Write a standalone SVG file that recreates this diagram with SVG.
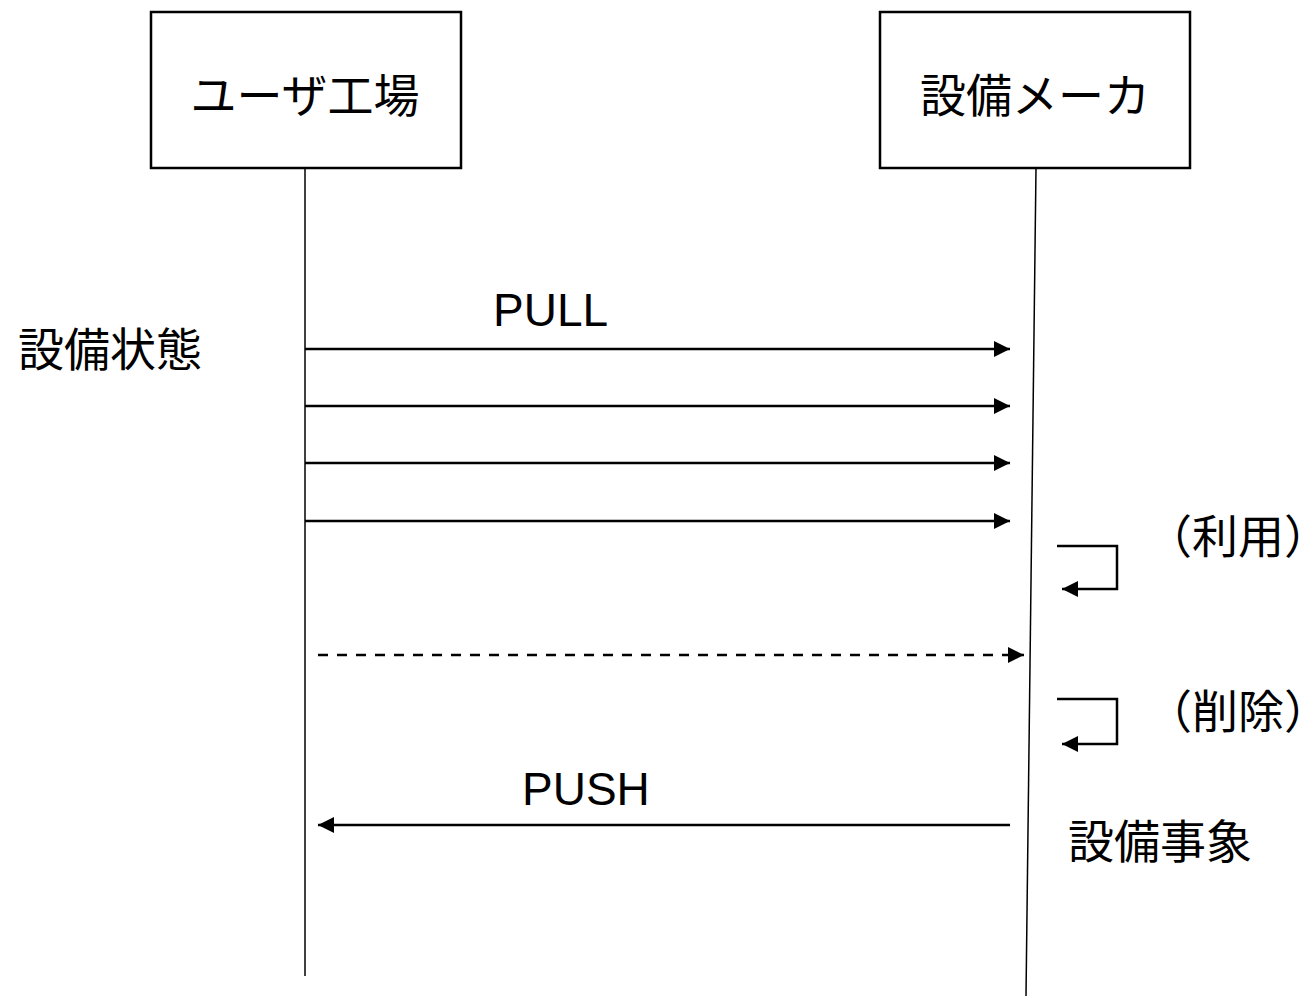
<svg xmlns="http://www.w3.org/2000/svg" width="1312" height="1000" viewBox="0 0 1312 1000">
<style>
.box{fill:#fff;stroke:#000;stroke-width:2.5}
.life{stroke:#000;stroke-width:1.5;fill:none}
.msg{stroke:#000;stroke-width:2.5;fill:none}
.dash{stroke-dasharray:10 9}
text{font-family:"Liberation Sans","Noto Sans CJK JP",sans-serif;font-size:46px;fill:#000}
</style>
<defs>
<marker id="ah" markerUnits="userSpaceOnUse" markerWidth="18" markerHeight="16" refX="16" refY="8" orient="auto">
<path d="M0,0 L16,8 L0,16 Z" fill="#000"/>
</marker>
</defs>
<rect width="1312" height="1000" fill="#fff"/>
<g id="user-factory">
<rect class="box" x="151" y="12" width="310" height="156"/>
<text x="305" y="112" text-anchor="middle">ユーザ工場</text>
</g>
<g id="maker">
<rect class="box" x="880" y="12" width="310" height="156"/>
<text x="1035" y="112" text-anchor="middle">設備メーカ</text>
</g>
<g id="lifelines">
<line class="life" x1="305" y1="168" x2="305" y2="976"/>
<line class="life" x1="1036" y1="168" x2="1026" y2="996"/>
</g>
<g id="connectors">
<line class="msg" x1="305" y1="349" x2="1010" y2="349" marker-end="url(#ah)"/>
<line class="msg" x1="305" y1="406" x2="1010" y2="406" marker-end="url(#ah)"/>
<line class="msg" x1="305" y1="463" x2="1010" y2="463" marker-end="url(#ah)"/>
<line class="msg" x1="305" y1="521" x2="1010" y2="521" marker-end="url(#ah)"/>
<polyline class="msg" points="1057,546 1117,546 1117,589 1062,589" marker-end="url(#ah)"/>
<line class="msg dash" x1="318" y1="655" x2="1024" y2="655" marker-end="url(#ah)"/>
<polyline class="msg" points="1057,699 1117,699 1117,744 1062,744" marker-end="url(#ah)"/>
<line class="msg" x1="1010" y1="825" x2="318" y2="825" marker-end="url(#ah)"/>
</g>
<g id="labels">
<text x="493" y="326">PULL</text>
<text x="18" y="366">設備状態</text>
<text x="1146" y="553">（利用）</text>
<text x="1146" y="728">（削除）</text>
<text x="522" y="805">PUSH</text>
<text x="1068" y="858">設備事象</text>
</g>
</svg>
